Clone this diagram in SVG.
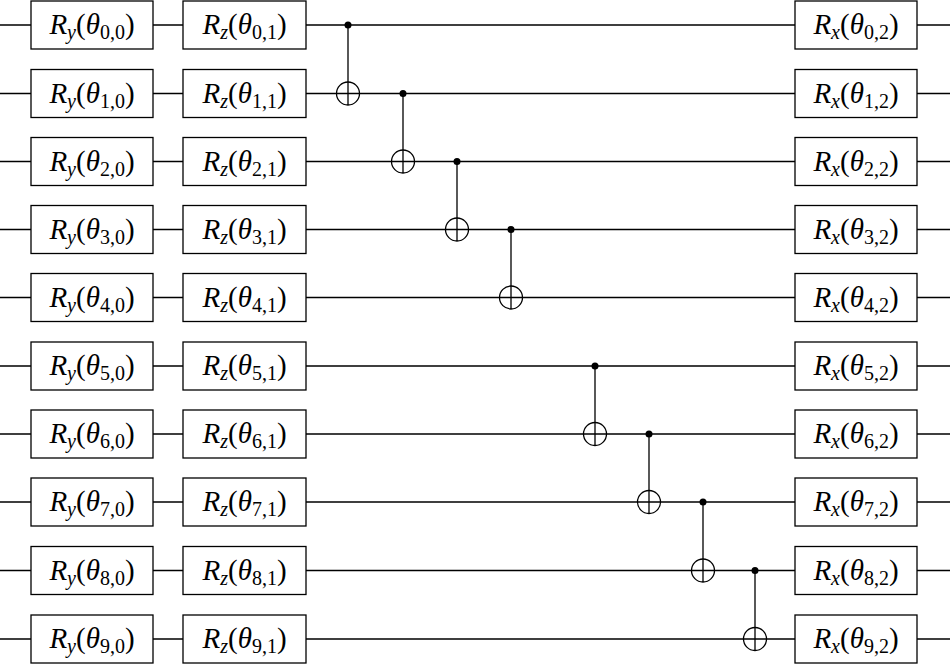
<svg xmlns="http://www.w3.org/2000/svg" width="950" height="672" viewBox="0 0 950 672">
<style>
.w{stroke:#000;stroke-width:1.3;fill:none}
.b{stroke:#000;stroke-width:1.3;fill:#fff}
.t{font-family:"Liberation Serif",serif;font-size:29px;text-anchor:middle}
.i{font-style:italic}
.s{font-size:20px}
</style>
<defs>
<g id="tgt"><circle r="11.5" class="b"/><path d="M-11.5 0H11.5M0 -11.5V11.5" class="w"/></g>
</defs>
<g id="wires">
<path class="w" d="M0 25H950M0 93.5H950M0 161.5H950M0 229.5H950M0 297.5H950M0 366H950M0 434H950M0 502H950M0 570.5H950M0 639H950"/>
</g>
<g id="connectors">
<path class="w" d="M348 25V105M403 93.5V173M457 161.5V241M511 229.5V309M595 366V446M649 434V514M703 502V582M755 570.5V651"/>
<g fill="#000"><circle cx="348" cy="25" r="3.5"/><circle cx="403" cy="93.5" r="3.5"/><circle cx="457" cy="161.5" r="3.5"/><circle cx="511" cy="229.5" r="3.5"/><circle cx="595" cy="366" r="3.5"/><circle cx="649" cy="434" r="3.5"/><circle cx="703" cy="502" r="3.5"/><circle cx="755" cy="570.5" r="3.5"/></g>
<use href="#tgt" x="348" y="93.5"/><use href="#tgt" x="403" y="161.5"/><use href="#tgt" x="457" y="229.5"/><use href="#tgt" x="511" y="297.5"/><use href="#tgt" x="595" y="434"/><use href="#tgt" x="649" y="502"/><use href="#tgt" x="703" y="570.5"/><use href="#tgt" x="755" y="639"/>
</g>
<g id="gates">
<g id="r0"><rect class="b" x="31" y="1" width="122" height="48"/><rect class="b" x="183" y="1" width="123" height="48"/><rect class="b" x="795" y="1" width="122" height="48"/>
<text class="t" x="92" y="34"><tspan class="i">R</tspan><tspan class="i s" dy="5">y</tspan><tspan dy="-5">(</tspan><tspan class="i">θ</tspan><tspan class="s" dy="5">0,0</tspan><tspan dy="-5">)</tspan></text>
<text class="t" x="244.5" y="34"><tspan class="i">R</tspan><tspan class="i s" dy="5">z</tspan><tspan dy="-5">(</tspan><tspan class="i">θ</tspan><tspan class="s" dy="5">0,1</tspan><tspan dy="-5">)</tspan></text>
<text class="t" x="856" y="34"><tspan class="i">R</tspan><tspan class="i s" dy="5">x</tspan><tspan dy="-5">(</tspan><tspan class="i">θ</tspan><tspan class="s" dy="5">0,2</tspan><tspan dy="-5">)</tspan></text></g>
<g id="r1" transform="translate(0,68.5)"><rect class="b" x="31" y="1" width="122" height="48"/><rect class="b" x="183" y="1" width="123" height="48"/><rect class="b" x="795" y="1" width="122" height="48"/>
<text class="t" x="92" y="34"><tspan class="i">R</tspan><tspan class="i s" dy="5">y</tspan><tspan dy="-5">(</tspan><tspan class="i">θ</tspan><tspan class="s" dy="5">1,0</tspan><tspan dy="-5">)</tspan></text>
<text class="t" x="244.5" y="34"><tspan class="i">R</tspan><tspan class="i s" dy="5">z</tspan><tspan dy="-5">(</tspan><tspan class="i">θ</tspan><tspan class="s" dy="5">1,1</tspan><tspan dy="-5">)</tspan></text>
<text class="t" x="856" y="34"><tspan class="i">R</tspan><tspan class="i s" dy="5">x</tspan><tspan dy="-5">(</tspan><tspan class="i">θ</tspan><tspan class="s" dy="5">1,2</tspan><tspan dy="-5">)</tspan></text></g>
<g id="r2" transform="translate(0,136.5)"><rect class="b" x="31" y="1" width="122" height="48"/><rect class="b" x="183" y="1" width="123" height="48"/><rect class="b" x="795" y="1" width="122" height="48"/>
<text class="t" x="92" y="34"><tspan class="i">R</tspan><tspan class="i s" dy="5">y</tspan><tspan dy="-5">(</tspan><tspan class="i">θ</tspan><tspan class="s" dy="5">2,0</tspan><tspan dy="-5">)</tspan></text>
<text class="t" x="244.5" y="34"><tspan class="i">R</tspan><tspan class="i s" dy="5">z</tspan><tspan dy="-5">(</tspan><tspan class="i">θ</tspan><tspan class="s" dy="5">2,1</tspan><tspan dy="-5">)</tspan></text>
<text class="t" x="856" y="34"><tspan class="i">R</tspan><tspan class="i s" dy="5">x</tspan><tspan dy="-5">(</tspan><tspan class="i">θ</tspan><tspan class="s" dy="5">2,2</tspan><tspan dy="-5">)</tspan></text></g>
<g id="r3" transform="translate(0,204.5)"><rect class="b" x="31" y="1" width="122" height="48"/><rect class="b" x="183" y="1" width="123" height="48"/><rect class="b" x="795" y="1" width="122" height="48"/>
<text class="t" x="92" y="34"><tspan class="i">R</tspan><tspan class="i s" dy="5">y</tspan><tspan dy="-5">(</tspan><tspan class="i">θ</tspan><tspan class="s" dy="5">3,0</tspan><tspan dy="-5">)</tspan></text>
<text class="t" x="244.5" y="34"><tspan class="i">R</tspan><tspan class="i s" dy="5">z</tspan><tspan dy="-5">(</tspan><tspan class="i">θ</tspan><tspan class="s" dy="5">3,1</tspan><tspan dy="-5">)</tspan></text>
<text class="t" x="856" y="34"><tspan class="i">R</tspan><tspan class="i s" dy="5">x</tspan><tspan dy="-5">(</tspan><tspan class="i">θ</tspan><tspan class="s" dy="5">3,2</tspan><tspan dy="-5">)</tspan></text></g>
<g id="r4" transform="translate(0,272.5)"><rect class="b" x="31" y="1" width="122" height="48"/><rect class="b" x="183" y="1" width="123" height="48"/><rect class="b" x="795" y="1" width="122" height="48"/>
<text class="t" x="92" y="34"><tspan class="i">R</tspan><tspan class="i s" dy="5">y</tspan><tspan dy="-5">(</tspan><tspan class="i">θ</tspan><tspan class="s" dy="5">4,0</tspan><tspan dy="-5">)</tspan></text>
<text class="t" x="244.5" y="34"><tspan class="i">R</tspan><tspan class="i s" dy="5">z</tspan><tspan dy="-5">(</tspan><tspan class="i">θ</tspan><tspan class="s" dy="5">4,1</tspan><tspan dy="-5">)</tspan></text>
<text class="t" x="856" y="34"><tspan class="i">R</tspan><tspan class="i s" dy="5">x</tspan><tspan dy="-5">(</tspan><tspan class="i">θ</tspan><tspan class="s" dy="5">4,2</tspan><tspan dy="-5">)</tspan></text></g>
<g id="r5" transform="translate(0,341)"><rect class="b" x="31" y="1" width="122" height="48"/><rect class="b" x="183" y="1" width="123" height="48"/><rect class="b" x="795" y="1" width="122" height="48"/>
<text class="t" x="92" y="34"><tspan class="i">R</tspan><tspan class="i s" dy="5">y</tspan><tspan dy="-5">(</tspan><tspan class="i">θ</tspan><tspan class="s" dy="5">5,0</tspan><tspan dy="-5">)</tspan></text>
<text class="t" x="244.5" y="34"><tspan class="i">R</tspan><tspan class="i s" dy="5">z</tspan><tspan dy="-5">(</tspan><tspan class="i">θ</tspan><tspan class="s" dy="5">5,1</tspan><tspan dy="-5">)</tspan></text>
<text class="t" x="856" y="34"><tspan class="i">R</tspan><tspan class="i s" dy="5">x</tspan><tspan dy="-5">(</tspan><tspan class="i">θ</tspan><tspan class="s" dy="5">5,2</tspan><tspan dy="-5">)</tspan></text></g>
<g id="r6" transform="translate(0,409)"><rect class="b" x="31" y="1" width="122" height="48"/><rect class="b" x="183" y="1" width="123" height="48"/><rect class="b" x="795" y="1" width="122" height="48"/>
<text class="t" x="92" y="34"><tspan class="i">R</tspan><tspan class="i s" dy="5">y</tspan><tspan dy="-5">(</tspan><tspan class="i">θ</tspan><tspan class="s" dy="5">6,0</tspan><tspan dy="-5">)</tspan></text>
<text class="t" x="244.5" y="34"><tspan class="i">R</tspan><tspan class="i s" dy="5">z</tspan><tspan dy="-5">(</tspan><tspan class="i">θ</tspan><tspan class="s" dy="5">6,1</tspan><tspan dy="-5">)</tspan></text>
<text class="t" x="856" y="34"><tspan class="i">R</tspan><tspan class="i s" dy="5">x</tspan><tspan dy="-5">(</tspan><tspan class="i">θ</tspan><tspan class="s" dy="5">6,2</tspan><tspan dy="-5">)</tspan></text></g>
<g id="r7" transform="translate(0,477)"><rect class="b" x="31" y="1" width="122" height="48"/><rect class="b" x="183" y="1" width="123" height="48"/><rect class="b" x="795" y="1" width="122" height="48"/>
<text class="t" x="92" y="34"><tspan class="i">R</tspan><tspan class="i s" dy="5">y</tspan><tspan dy="-5">(</tspan><tspan class="i">θ</tspan><tspan class="s" dy="5">7,0</tspan><tspan dy="-5">)</tspan></text>
<text class="t" x="244.5" y="34"><tspan class="i">R</tspan><tspan class="i s" dy="5">z</tspan><tspan dy="-5">(</tspan><tspan class="i">θ</tspan><tspan class="s" dy="5">7,1</tspan><tspan dy="-5">)</tspan></text>
<text class="t" x="856" y="34"><tspan class="i">R</tspan><tspan class="i s" dy="5">x</tspan><tspan dy="-5">(</tspan><tspan class="i">θ</tspan><tspan class="s" dy="5">7,2</tspan><tspan dy="-5">)</tspan></text></g>
<g id="r8" transform="translate(0,545.5)"><rect class="b" x="31" y="1" width="122" height="48"/><rect class="b" x="183" y="1" width="123" height="48"/><rect class="b" x="795" y="1" width="122" height="48"/>
<text class="t" x="92" y="34"><tspan class="i">R</tspan><tspan class="i s" dy="5">y</tspan><tspan dy="-5">(</tspan><tspan class="i">θ</tspan><tspan class="s" dy="5">8,0</tspan><tspan dy="-5">)</tspan></text>
<text class="t" x="244.5" y="34"><tspan class="i">R</tspan><tspan class="i s" dy="5">z</tspan><tspan dy="-5">(</tspan><tspan class="i">θ</tspan><tspan class="s" dy="5">8,1</tspan><tspan dy="-5">)</tspan></text>
<text class="t" x="856" y="34"><tspan class="i">R</tspan><tspan class="i s" dy="5">x</tspan><tspan dy="-5">(</tspan><tspan class="i">θ</tspan><tspan class="s" dy="5">8,2</tspan><tspan dy="-5">)</tspan></text></g>
<g id="r9" transform="translate(0,614)"><rect class="b" x="31" y="1" width="122" height="48"/><rect class="b" x="183" y="1" width="123" height="48"/><rect class="b" x="795" y="1" width="122" height="48"/>
<text class="t" x="92" y="34"><tspan class="i">R</tspan><tspan class="i s" dy="5">y</tspan><tspan dy="-5">(</tspan><tspan class="i">θ</tspan><tspan class="s" dy="5">9,0</tspan><tspan dy="-5">)</tspan></text>
<text class="t" x="244.5" y="34"><tspan class="i">R</tspan><tspan class="i s" dy="5">z</tspan><tspan dy="-5">(</tspan><tspan class="i">θ</tspan><tspan class="s" dy="5">9,1</tspan><tspan dy="-5">)</tspan></text>
<text class="t" x="856" y="34"><tspan class="i">R</tspan><tspan class="i s" dy="5">x</tspan><tspan dy="-5">(</tspan><tspan class="i">θ</tspan><tspan class="s" dy="5">9,2</tspan><tspan dy="-5">)</tspan></text></g>
</g>
</svg>
